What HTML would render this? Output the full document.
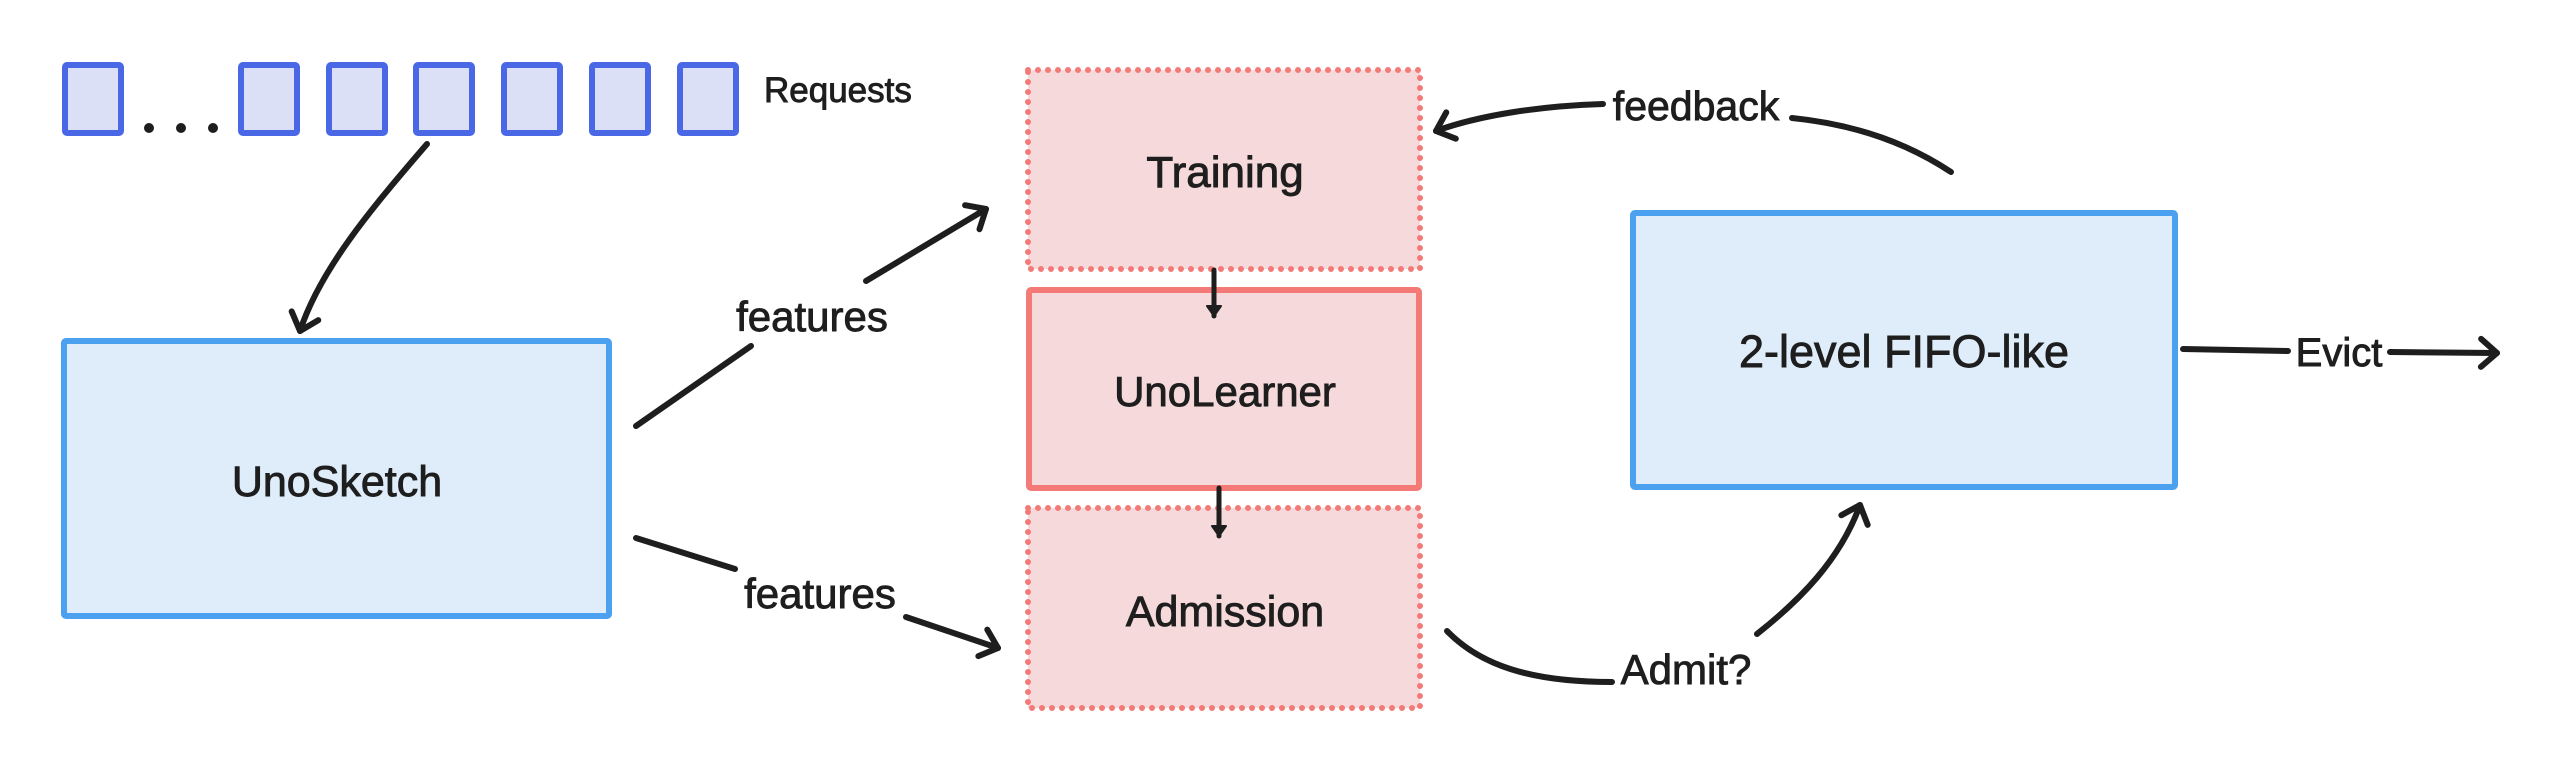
<!DOCTYPE html>
<html><head><meta charset="utf-8"><style>
html,body{margin:0;padding:0;background:#fff;}
svg{display:block;}
text{font-family:"Liberation Sans",sans-serif;fill:#1e1e1e;stroke:#1e1e1e;stroke-width:0.9;}
</style></head><body>
<svg width="2560" height="773" viewBox="0 0 2560 773" xmlns="http://www.w3.org/2000/svg">
<defs>
<marker id="a" markerUnits="userSpaceOnUse" markerWidth="40" markerHeight="40" refX="20" refY="20" orient="auto">
<path d="M4,6 L20,20 L4,34" fill="none" stroke="#1e1e1e" stroke-width="6" stroke-linecap="round" stroke-linejoin="round"/>
</marker>
<marker id="s" markerUnits="userSpaceOnUse" markerWidth="24" markerHeight="24" refX="12" refY="12" orient="auto">
<path d="M2,5 L12,12 L2,19 Z" fill="#1e1e1e" stroke="#1e1e1e" stroke-width="2" stroke-linejoin="round"/>
</marker>
</defs>
<g fill="#dbe0f7" stroke="#4a67e6" stroke-width="6">
<rect x="65" y="65" width="56" height="68" rx="2"/>
<rect x="241" y="65" width="56" height="68" rx="2"/>
<rect x="329" y="65" width="56" height="68" rx="2"/>
<rect x="416" y="65" width="56" height="68" rx="2"/>
<rect x="504" y="65" width="56" height="68" rx="2"/>
<rect x="592" y="65" width="56" height="68" rx="2"/>
<rect x="680" y="65" width="56" height="68" rx="2"/>
</g>
<g fill="#1e1e1e"><circle cx="149" cy="128" r="5"/><circle cx="181" cy="128" r="5"/><circle cx="213" cy="128" r="5"/></g>
<text x="764" y="102" font-size="35">Requests</text>

<rect x="64" y="341" width="545" height="275" fill="#deedf9" stroke="#4ba1f0" stroke-width="6" rx="2"/>
<text x="337" y="496" font-size="43" text-anchor="middle">UnoSketch</text>

<rect x="1028" y="70" width="392" height="199" fill="#f5d9db" stroke="#f47a78" stroke-width="6" stroke-dasharray="0 10" stroke-linecap="round"/>
<text x="1225" y="187" font-size="44" text-anchor="middle">Training</text>
<rect x="1029" y="290" width="390" height="198" fill="#f5d9db" stroke="#f47a78" stroke-width="6" rx="2"/>
<text x="1225" y="406" font-size="42" text-anchor="middle">UnoLearner</text>
<rect x="1028" y="508" width="392" height="200" fill="#f5d9db" stroke="#f47a78" stroke-width="6" stroke-dasharray="0 10" stroke-linecap="round"/>
<text x="1225" y="626" font-size="43" text-anchor="middle">Admission</text>

<rect x="1633" y="213" width="542" height="274" fill="#deedf9" stroke="#4ba1f0" stroke-width="6" rx="2"/>
<text x="1904" y="367" font-size="45" text-anchor="middle">2-level FIFO-like</text>

<g fill="none" stroke="#1e1e1e" stroke-width="6" stroke-linecap="round">
<path d="M427,144 C370,210 320,270 300,331" marker-end="url(#a)"/>
<path d="M636,426 L751,346"/>
<path d="M866,281 L986,209" marker-end="url(#a)"/>
<path d="M636,538 L735,569"/>
<path d="M906,617 L998,648" marker-end="url(#a)"/>
<path d="M1214,270 L1214,316" stroke-width="5" marker-end="url(#s)"/>
<path d="M1219,488 L1219,536" stroke-width="5" marker-end="url(#s)"/>
<path d="M1951,172 C1910,145 1860,125 1792,118"/>
<path d="M1603,104 C1540,106 1480,115 1436,131" marker-end="url(#a)"/>
<path d="M1447,631 C1480,665 1530,682 1612,682"/>
<path d="M1757,634 C1800,600 1840,560 1860,505" marker-end="url(#a)"/>
<path d="M2183,349 L2288,351"/>
<path d="M2390,352 L2497,353" marker-end="url(#a)"/>
</g>
<text x="812" y="331" font-size="42" text-anchor="middle">features</text>
<text x="820" y="608" font-size="42" text-anchor="middle">features</text>
<text x="1696" y="120" font-size="41" text-anchor="middle">feedback</text>
<text x="1686" y="684" font-size="42" text-anchor="middle">Admit?</text>
<text x="2339" y="366" font-size="40" text-anchor="middle">Evict</text>
</svg>
</body></html>
